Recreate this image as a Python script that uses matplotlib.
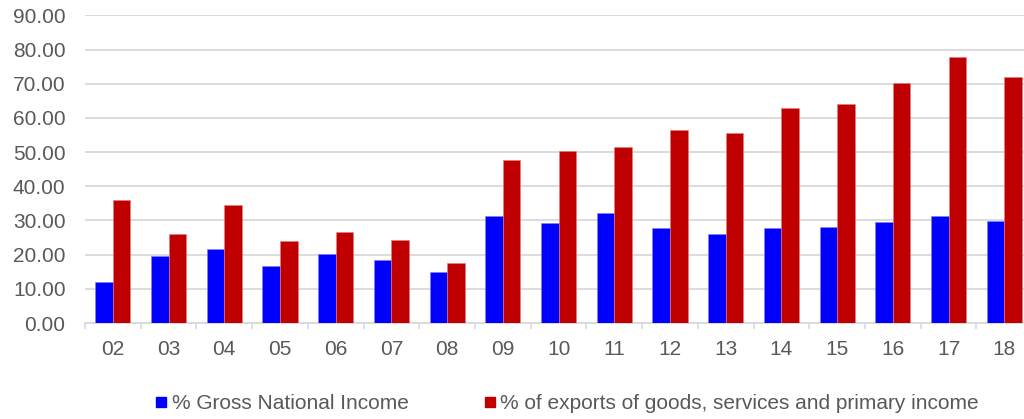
import numpy as np
import matplotlib.pyplot as plt
from matplotlib.lines import Line2D

plt.rcParams['font.family'] = ['Liberation Sans', 'DejaVu Sans']

years = ['02', '03', '04', '05', '06', '07', '08', '09', '10',
         '11', '12', '13', '14', '15', '16', '17', '18']
gni_pct = [11.9, 19.7, 21.7, 16.8, 20.1, 18.4, 14.8, 31.3, 29.4,
           32.3, 27.9, 26.1, 27.9, 28.2, 29.6, 31.2, 29.9]
exports_pct = [36.1, 26.1, 34.4, 24.1, 26.6, 24.2, 17.7, 47.8, 50.3,
               51.5, 56.6, 55.7, 62.9, 64.0, 70.1, 77.7, 71.9]

blue = '#0000ff'
red = '#c00000'
grid_col = '#d9d9d9'
text_col = '#595959'

fig = plt.figure(figsize=(10.24, 4.19), dpi=100)
ax = fig.add_axes([0.083, 0.229, 0.925, 0.7344])

x = np.arange(len(years))
w = 0.315
ax.bar(x - w / 2, gni_pct, width=w, color=blue, edgecolor='#8080ff', linewidth=0.4, zorder=3)
ax.bar(x + w / 2, exports_pct, width=w, color=red, edgecolor='#e08080', linewidth=0.4, zorder=3)

ax.set_xlim(-0.5, len(years) - 0.5)
ax.set_ylim(0, 90)
ax.set_yticks(np.arange(0, 91, 10))
ax.set_yticklabels([f'{v:.2f}' for v in np.arange(0, 91, 10)])
ax.yaxis.grid(True, color=grid_col, linewidth=1.3, zorder=0)
ax.set_axisbelow(True)

# category labels centred, tick marks on the boundaries
ax.set_xticks(x)
ax.set_xticklabels(years)
ax.tick_params(axis='x', which='major', length=0, pad=12, labelsize=15, labelcolor=text_col)
ax.set_xticks(np.arange(-0.5, len(years), 1.0), minor=True)
ax.tick_params(axis='x', which='minor', length=4.5, width=1.2, color=grid_col, direction='out')
ax.tick_params(axis='y', length=0, pad=14, labelsize=15, labelcolor=text_col)

for s in ['top', 'right', 'left']:
    ax.spines[s].set_visible(False)
ax.spines['bottom'].set_color(grid_col)
ax.spines['bottom'].set_linewidth(1.3)

handles = [
    Line2D([], [], marker='s', linestyle='none', markersize=7.2, color=blue),
    Line2D([], [], marker='s', linestyle='none', markersize=7.2, color=red),
]
labels = ['% Gross National Income', '% of exports of goods, services and primary income']
fig.legend(handles, labels, loc='center left', bbox_to_anchor=(0.134, 0.036), ncol=2,
           frameon=False, fontsize=15, handlelength=0.5, handletextpad=0.25,
           columnspacing=3.65, labelcolor=text_col)

fig.savefig('out.png', dpi=100)
